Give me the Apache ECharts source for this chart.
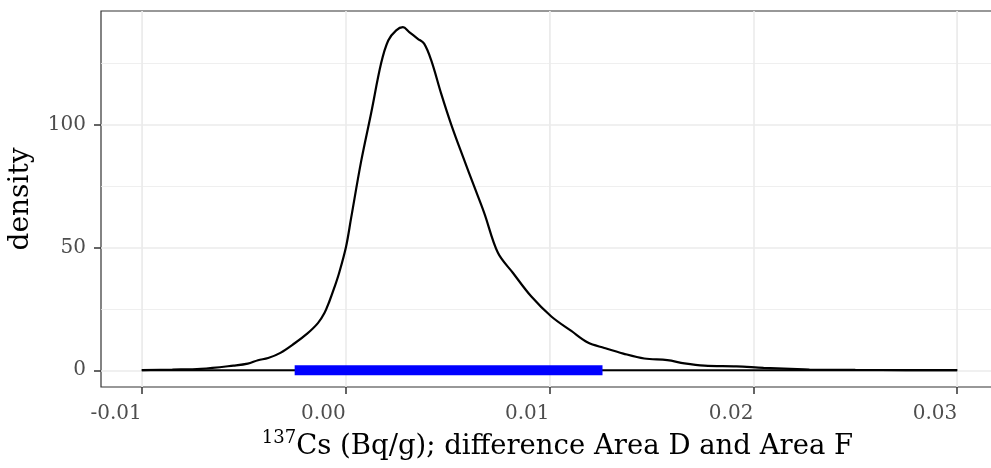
<!DOCTYPE html>
<html>
<head>
<meta charset="utf-8">
<script src="https://cdn.jsdelivr.net/npm/echarts@6/dist/echarts.min.js"></script>
<style>html,body{margin:0;padding:0;background:#fff}#c{width:991px;height:468px}</style>
</head>
<body>
<div id="c"></div>
<script>
// Density curve (x in Bq/g, y density)
const densityX = [-0.0100,-0.0085,-0.0071,-0.0055,-0.0048,-0.0043,-0.0038,-0.0032,-0.0025,-0.0019,-0.00136,-0.00104,-0.00080,-0.00056,-0.00032,0.00002,0.00027,0.00076,0.00125,0.00174,0.00209,0.00248,0.00281,0.00312,0.00354,0.00385,0.00420,0.00469,0.00518,0.00575,0.00631,0.00680,0.00747,0.00821,0.00911,0.01009,0.01107,0.01188,0.01269,0.01362,0.01465,0.01578,0.01662,0.01760,0.01917,0.02050,0.02182,0.02275,0.0250,0.0275,0.0300];
const densityY = [0.1,0.3,0.6,1.9,2.7,4.1,5.0,7.1,11.0,14.8,19.2,23.3,28.0,33.5,39.6,50.3,62.0,85.0,104.6,124.9,134.2,138.3,139.6,137.6,134.9,132.9,126.1,112.5,100.0,87.0,74.7,64.0,47.8,39.6,30.0,21.9,16.0,11.3,9.1,6.8,4.8,4.1,2.8,1.9,1.6,1.0,0.6,0.3,0.15,0.1,0.05];
// Interval bar (blue) and baseline
const intervalX = [-0.0025, 0.0126];
const baselineX = [-0.01, 0.03];
// Axes
const xTicks = [-0.01, 0.00, 0.01, 0.02, 0.03];
const xTickLabels = ['-0.01', '0.00', '0.01', '0.02', '0.03'];
const xMinor = [-0.005, 0.005, 0.015, 0.025];
const yTicks = [0, 50, 100];
const yMinor = [25, 75, 125];
const xRange = [-0.012, 0.032];
const yRange = [-6.8, 146.2];
const xTitleSup = '137';
const xTitle = 'Cs (Bq/g); difference Area D and Area F';
const yTitle = 'density';

const FONT = 'DejaVu Serif';
const chart = echarts.init(document.getElementById('c'), null, {renderer: 'canvas'});

const gridLines = [];
xTicks.forEach(v => gridLines.push({xAxis: v, lineStyle: {width: 1.6}}));
xMinor.forEach(v => gridLines.push({xAxis: v, lineStyle: {width: 0.8}}));
yTicks.forEach(v => gridLines.push({yAxis: v, lineStyle: {width: 1.6}}));
yMinor.forEach(v => gridLines.push({yAxis: v, lineStyle: {width: 0.8}}));

chart.setOption({
  animation: false,
  backgroundColor: '#ffffff',
  grid: {left: 101, top: 11, width: 897, height: 376, show: true, borderColor: '#333333', borderWidth: 1.2,
    backgroundColor: 'transparent', containLabel: false, outerBoundsMode: 'none'},
  xAxis: {
    type: 'value', min: xRange[0], max: xRange[1],
    axisLine: {show: false, onZero: false},
    splitLine: {show: false},
    axisTick: {show: true, customValues: xTicks, length: 7, lineStyle: {color: '#333333', width: 1.5}},
    axisLabel: {customValues: xTicks, align: 'right', margin: 17, color: '#4D4D4D', fontFamily: FONT, fontSize: 20,
      formatter: v => { const i = xTicks.findIndex(t => Math.abs(t - v) < 1e-9); return i >= 0 ? xTickLabels[i] : ''; }},
    name: '{sup|' + xTitleSup + '}{base|' + xTitle + '}',
    nameLocation: 'middle', nameGap: 41,
    nameTextStyle: {padding: [0, 0, 0, 16], rich: {
      sup: {fontFamily: FONT, fontSize: 18, color: '#000', verticalAlign: 'top', lineHeight: 32},
      base: {fontFamily: FONT, fontSize: 27.5, color: '#000', verticalAlign: 'bottom', lineHeight: 32}
    }}
  },
  yAxis: {
    type: 'value', min: yRange[0], max: yRange[1],
    axisLine: {show: false, onZero: false},
    splitLine: {show: false},
    axisTick: {show: true, customValues: yTicks, length: 7, lineStyle: {color: '#333333', width: 1.5}},
    axisLabel: {customValues: yTicks, margin: 15, color: '#4D4D4D', fontFamily: FONT, fontSize: 20},
    name: yTitle, nameLocation: 'middle', nameRotate: 90, nameGap: 66,
    nameTextStyle: {fontFamily: FONT, fontSize: 28, color: '#000'}
  },
  series: [
    {
      type: 'line', data: [], silent: true, z: 1,
      markLine: {silent: true, z: 1, symbol: ['none', 'none'], label: {show: false}, animation: false,
        lineStyle: {color: '#EBEBEB', type: 'solid'}, data: gridLines}
    },
    {
      type: 'line', showSymbol: false, silent: true, z: 3,
      data: baselineX.map(x => [x, 0]),
      lineStyle: {color: '#000', width: 2}
    },
    {
      type: 'line', showSymbol: false, silent: true, smooth: 0.35, z: 3,
      data: densityX.map((x, i) => [x, densityY[i]]),
      lineStyle: {color: '#000', width: 2.2}
    },
    {
      type: 'line', showSymbol: false, silent: true, z: 4,
      data: intervalX.map(x => [x, 0]),
      lineStyle: {color: '#0000FF', width: 10, cap: 'butt'}
    }
  ]
});
</script>
</body>
</html>
